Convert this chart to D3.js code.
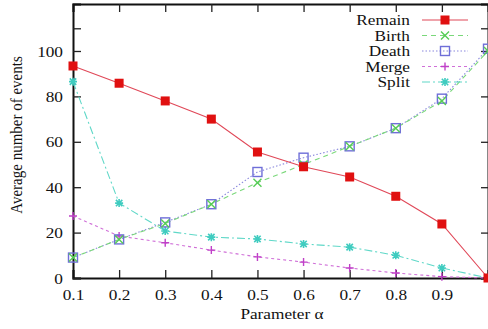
<!DOCTYPE html>
<html><head><meta charset="utf-8">
<script src="https://cdn.jsdelivr.net/npm/d3@7"></script>
<style>body{margin:0;background:#fff}svg{display:block}text{font-family:"Liberation Serif","DejaVu Serif",serif}</style>
</head><body><svg id="c" width="488" height="329"></svg>
<script>
const alphas = [0.1,0.2,0.3,0.4,0.5,0.6,0.7,0.8,0.9,1.0];
const remain = [93.4,85.8,78,70,55.5,49,44.5,36,23.8,0];
const birth  = [9,17,24,32.5,42,50,58,66,78,100];
const death  = [9,17,24.5,32.5,46.7,53,58,66,79,101];
const merge  = [27.3,18.5,15.5,12.3,9.3,7,4.4,2.2,0.6,0];
const split  = [86.5,33,20.7,18,17.2,15,13.6,10,4.4,0];
const xTicks = [0.1,0.2,0.3,0.4,0.5,0.6,0.7,0.8,0.9];
const yTicks = [0,20,40,60,80,100];
const seriesNames = ["Remain","Birth","Death","Merge","Split"];

const series = [
  {name:"Remain", v:remain, color:"#e04858", mcolor:"#e01010", dash:null, marker:"fsquare"},
  {name:"Birth", v:birth, color:"#7ad87a", mcolor:"#55cc55", dash:"5,4", marker:"x"},
  {name:"Death", v:death, color:"#8a88dd", mcolor:"#6f6fd8", dash:"1.5,2", marker:"osquare"},
  {name:"Merge", v:merge, color:"#d070d8", mcolor:"#c040c8", dash:"3,3", marker:"plus"},
  {name:"Split", v:split, color:"#60d8c8", mcolor:"#40ccc0", dash:"8,3,2,3", marker:"star"}
];

const SX = 1.15, FS = "15px";
const svg = d3.select("#c");
const L=73, R=488, T=4, B=278;
const x = d3.scaleLinear().domain([0.1,1.0]).range([L,R]);
const y = d3.scaleLinear().domain([0,120.7]).range([B,T]);

const gx = svg.append("g").attr("transform",`translate(0,${B})`)
  .call(d3.axisBottom(x).tickValues(xTicks).tickSize(-8).tickFormat(d3.format(".1f")));
const gxt = svg.append("g").attr("transform",`translate(0,${T})`)
  .call(d3.axisTop(x).tickValues(xTicks).tickSize(-8).tickFormat(""));
const gy = svg.append("g").attr("transform",`translate(${L},0)`)
  .call(d3.axisLeft(y).tickValues(yTicks.concat([110])).tickSize(-8).tickFormat(d=>d===110?"":d));
const gyr = svg.append("g").attr("transform",`translate(${R},0)`)
  .call(d3.axisRight(y).tickValues(yTicks.concat([110])).tickSize(-7).tickFormat(""));
[gx,gxt,gy,gyr].forEach(g=>{
  g.selectAll("path").attr("stroke","#111").attr("stroke-width",2);
  g.selectAll("line").attr("stroke","#222").attr("stroke-width",1.3);
  g.selectAll("text").attr("fill","#111").style("font-size",FS).style("font-family",'"Liberation Serif",serif')
    .attr("transform",`scale(${SX},1)`);
});
gx.selectAll("text").attr("y",22).attr("dy",0);
gy.selectAll("text").attr("x",-8.7).attr("dy","0.34em");

function drawMarker(g, type, cx, cy, col){
  const s=4;
  if(type==="fsquare") g.append("rect").attr("x",cx-4.5).attr("y",cy-4.5).attr("width",9).attr("height",9).attr("fill",col);
  else if(type==="osquare") g.append("rect").attr("x",cx-4.5).attr("y",cy-4.5).attr("width",9).attr("height",9).attr("fill","none").attr("stroke",col).attr("stroke-width",1.4);
  else if(type==="x") g.append("path").attr("d",`M${cx-s},${cy-s}L${cx+s},${cy+s}M${cx-s},${cy+s}L${cx+s},${cy-s}`).attr("stroke",col).attr("stroke-width",1.4);
  else if(type==="plus") g.append("path").attr("d",`M${cx-s},${cy}L${cx+s},${cy}M${cx},${cy-s}L${cx},${cy+s}`).attr("stroke",col).attr("stroke-width",1.4);
  else if(type==="star") g.append("path").attr("d",`M${cx-s},${cy}L${cx+s},${cy}M${cx},${cy-s}L${cx},${cy+s}M${cx-s*0.8},${cy-s*0.8}L${cx+s*0.8},${cy+s*0.8}M${cx-s*0.8},${cy+s*0.8}L${cx+s*0.8},${cy-s*0.8}`).attr("stroke",col).attr("stroke-width",1.6);
}

const line = d3.line().x((d,i)=>x(alphas[i])).y(d=>y(d));
const plot = svg.append("g");
series.slice().reverse().forEach(s=>{
  plot.append("path").datum(s.v).attr("d",line).attr("fill","none").attr("stroke",s.color)
    .attr("stroke-width",1.1).attr("stroke-dasharray",s.dash);
});
series.slice().reverse().forEach(s=>{
  const g = plot.append("g");
  s.v.forEach((v,i)=>drawMarker(g,s.marker,x(alphas[i]),y(v),s.mcolor));
});

const lg = svg.append("g");
seriesNames.forEach((n,i)=>{
  const s = series[i];
  const yy = 20 + i*15.5;
  lg.append("g").attr("transform",`translate(410,${yy}) scale(${SX},1)`)
    .append("text").attr("dy","0.35em").attr("text-anchor","end")
    .style("font-size",FS).attr("fill","#111").text(n);
  lg.append("line").attr("x1",422).attr("x2",468).attr("y1",yy).attr("y2",yy)
    .attr("stroke",s.color).attr("stroke-width",1.1).attr("stroke-dasharray",s.dash);
  drawMarker(lg,s.marker,445,yy,s.mcolor);
});

svg.append("g").attr("transform",`translate(282,319) scale(${SX},1)`)
  .append("text").attr("text-anchor","middle")
  .style("font-size",FS).attr("fill","#111").text("Parameter α");
svg.append("g").attr("transform",`translate(22,135) scale(${SX},1) rotate(-90)`)
  .append("text").attr("text-anchor","middle")
  .style("font-size",FS).attr("fill","#111").text("Average number of events");
</script></body></html>
